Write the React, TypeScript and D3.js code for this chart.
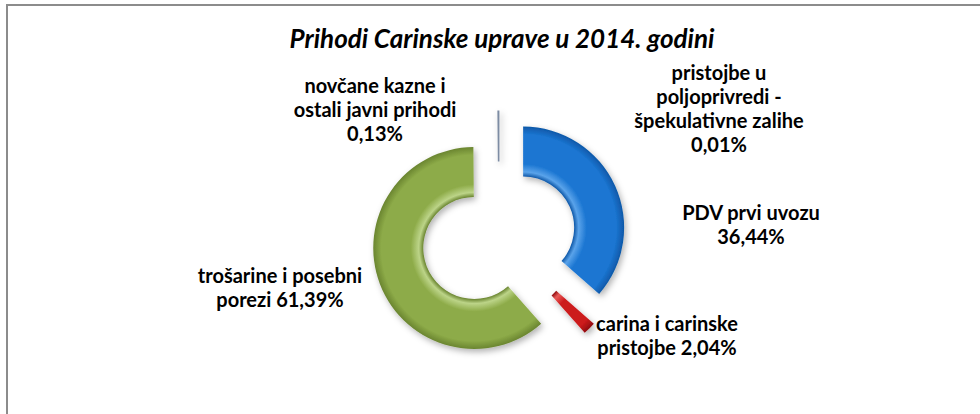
import React from "react";
import * as d3 from "d3";

// chart data (shares in %, clockwise from 12 o'clock as in the source)
const categories = [
  "PDV prvi uvozu",
  "carina i carinske pristojbe",
  "trošarine i posebni porezi",
  "novčane kazne i ostali javni prihodi",
  "pristojbe u poljoprivredi - špekulativne zalihe",
];
const shares = [36.44, 2.04, 61.39, 0.13, 0.01];
const labelText = [
  ["PDV prvi uvozu"],
  ["carina i carinske", "pristojbe"],
  ["trošarine i posebni", "porezi"],
  ["novčane kazne i", "ostali javni prihodi"],
  ["pristojbe u", "poljoprivredi -", "špekulativne zalihe"],
];
const title = "Prihodi Carinske uprave u 2014. godini";

// look
const colors = ["#1b76d2", "#cc1a1c", "#8dab48", "#7d8ca3", "#8064a2"];
const darkColors = ["#0f58a8", "#900d0f", "#6a8530", "#5b6b82", "#5c4680"];
const lightColors = ["#5aa3ea", "#e85a58", "#bcd488", "#a7b4c6", "#a68fc4"];
// label anchor: center x, first baseline
const labelPos = [
  [751, 220],
  [667, 331],
  [280, 283],
  [375, 93],
  [719, 80],
];

const W = 980, H = 414;
const cx = 499, cy = 238.5;
const outerR = 101, innerR = 51, explode = 26.5;
const font = "Lato, 'Open Sans', sans-serif";

const fmt = (v: number) => v.toFixed(2).replace(".", ",") + "%";

export default function App() {
  const pie = d3.pie<number>().sort(null).value((d) => d).startAngle(0);
  const arcs = pie(shares);
  const arcGen = d3.arc<d3.PieArcDatum<number>>().innerRadius(innerR).outerRadius(outerR);

  return (
    <svg
      width={W}
      height={H}
      style={{ position: "absolute", left: 0, top: 0, background: "#fff" }}
    >
      <defs>
        <filter id="shadow" x="-30%" y="-30%" width="160%" height="160%">
          <feDropShadow dx="2" dy="3" stdDeviation="3" floodColor="#000" floodOpacity="0.3" />
        </filter>
        {arcs.map((a, i) => (
          // paths are translated, so the gradient sits at their local origin
          <radialGradient key={i} id={"g" + i} gradientUnits="userSpaceOnUse" cx={0} cy={0} r={outerR}>
            <stop offset={innerR / outerR} stopColor={darkColors[i]} />
            <stop offset={0.55} stopColor={lightColors[i]} />
            <stop offset={0.63} stopColor={colors[i]} />
            <stop offset={0.92} stopColor={colors[i]} />
            <stop offset={1} stopColor={darkColors[i]} />
          </radialGradient>
        ))}
      </defs>

      <rect x={7} y={5} width={W + 20} height={H + 20} fill="#fff" stroke="#8c8c8c" strokeWidth={2} />

      <text
        x={502}
        y={48}
        textAnchor="middle"
        fontFamily={font}
        fontStyle="italic"
        fontWeight="bold"
        fontSize={26}
        fill="#000"
      >
        {title}
      </text>

      <g filter="url(#shadow)">
        {arcs.map((a, i) => {
          const mid = (a.startAngle + a.endAngle) / 2;
          const ox = cx + explode * Math.sin(mid);
          const oy = cy - explode * Math.cos(mid);
          const thin = a.value < 0.5;
          return (
            <path
              key={categories[i]}
              d={arcGen(a) || ""}
              transform={`translate(${ox},${oy})`}
              fill={thin ? colors[i] : `url(#g${i})`}
              stroke={thin ? colors[i] : "none"}
              strokeWidth={thin ? 1.2 : 0}
              opacity={a.value < 0.05 ? 0 : 1}
            />
          );
        })}
      </g>

      {labelText.map((lines, i) => {
        const [lx, ly] = labelPos[i];
        const all = [...lines];
        const pct = fmt(shares[i]);
        // percentage goes on the last line or its own line
        if (i === 1 || i === 2) all[all.length - 1] = all[all.length - 1] + " " + pct;
        else all.push(pct);
        return (
          <text key={i} textAnchor="middle" fontFamily={font} fontWeight="bold" fontSize={20} fill="#000">
            {all.map((t, j) => (
              <tspan key={j} x={lx} y={ly + j * 24}>
                {t}
              </tspan>
            ))}
          </text>
        );
      })}
    </svg>
  );
}
